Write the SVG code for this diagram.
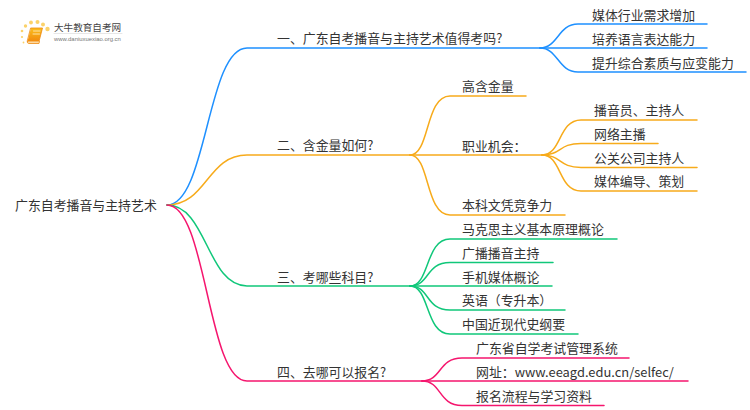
<svg xmlns="http://www.w3.org/2000/svg" width="750" height="410" viewBox="0 0 750 410">
<defs><linearGradient id="bk" x1="0" y1="0" x2="0" y2="1"><stop offset="0" stop-color="#fbbf1e"/><stop offset="1" stop-color="#f18a0e"/></linearGradient></defs>
<style>
text{font-family:"Noto Sans CJK SC","Noto Sans",sans-serif;font-size:12.9px;fill:#333}
path{fill:none;stroke-width:1.5;stroke-linecap:round}
.b path{stroke:#1e90ff}.o path{stroke:#f7ab1b}.g path{stroke:#10c77a}.p path{stroke:#f5166e}
</style>
<rect width="750" height="410" fill="#fff"/>
<g id="logo">
<g fill="#fbd26a"><circle cx="25.500" cy="26" r="1.700"/><circle cx="31" cy="22.500" r="1.900"/><circle cx="37.500" cy="22" r="2"/><circle cx="43" cy="24.500" r="2"/><circle cx="47.500" cy="29" r="2.200"/><circle cx="22" cy="31" r="1.300"/><circle cx="22" cy="37" r="1.100"/><circle cx="23.500" cy="42.500" r="0.900"/></g>
<path d="M31 28H42.500L39 41.500H27.500Z" style="fill:url(#bk);stroke:#ee8a10;stroke-width:0.800"/>
<path d="M27.500 41.500C27 43 28 43.500 29 43.500H39L39.500 41.500" style="fill:#fdd9a0;stroke:#ee8a10;stroke-width:0.800"/>
<path d="M33.500 31H40M33 34H39.500" style="stroke:#fde3a6;stroke-width:1"/>
<text x="54" y="31" style="font-size:9.600px;fill:#444">大牛教育自考网</text>
<path d="M54 33.500H122" style="stroke:#ddd;stroke-width:0.700"/>
<text x="54" y="41" style="font-size:5.900px;fill:#777;font-family:'Liberation Sans',sans-serif">www.daniuxuexiao.org.cn</text>
</g>
<g id="connectors">
<g class="b"><path d="M167 205C207 205 207 48 247 48H540"/><path d="M540 48C558 48 558 24 578 24H707"/><path d="M540 48H707"/><path d="M540 48C558 48 558 72 578 72H746"/></g>
<g class="o"><path d="M167 205C207 205 207 155 247 155H410"/><path d="M410 155C430 155 425 96 450 96H526"/><path d="M410 155H542"/><path d="M410 155C430 155 425 215 450 215H565"/><path d="M542 155C562 155 558 120 581 120H697"/><path d="M542 155C562 155 558 143.500 581 143.500H658"/><path d="M542 155C562 155 558 167.500 581 167.500H697"/><path d="M542 155C562 155 558 191 581 191H697"/></g>
<g class="g"><path d="M167 205C207 205 207 286 247 286H410"/><path d="M410 286C430 286 425 239 450 239H617"/><path d="M410 286C430 286 425 262.500 450 262.500H553"/><path d="M410 286H552"/><path d="M410 286C430 286 425 310 450 310H565"/><path d="M410 286C430 286 425 334 450 334H578"/></g>
<g class="p"><path d="M167 205C207 205 207 381 247 381H422"/><path d="M422 381C442 381 438 358 462 358H629"/><path d="M422 381H688"/><path d="M422 381C442 381 438 405.500 462 405.500H604"/></g>
</g>
<g id="root"><text x="15" y="210">广东自考播音与主持艺术</text></g>
<g id="n1"><text x="277" y="43">一、广东自考播音与主持艺术值得考吗?</text></g>
<g id="n1a"><text x="592" y="20">媒体行业需求增加</text></g>
<g id="n1b"><text x="592" y="44">培养语言表达能力</text></g>
<g id="n1c"><text x="592" y="68">提升综合素质与应变能力</text></g>
<g id="n2"><text x="277" y="150">二、含金量如何?</text></g>
<g id="n2a"><text x="462" y="91">高含金量</text></g>
<g id="n2b"><text x="462" y="151">职业机会&#xFF1A;</text></g>
<g id="n2c"><text x="462" y="210">本科文凭竞争力</text></g>
<g id="n2b1"><text x="594" y="115">播音员、主持人</text></g>
<g id="n2b2"><text x="594" y="139">网络主播</text></g>
<g id="n2b3"><text x="594" y="163">公关公司主持人</text></g>
<g id="n2b4"><text x="594" y="186">媒体编导、策划</text></g>
<g id="n3"><text x="277" y="282">三、考哪些科目?</text></g>
<g id="n3a"><text x="462" y="234">马克思主义基本原理概论</text></g>
<g id="n3b"><text x="462" y="258">广播播音主持</text></g>
<g id="n3c"><text x="462" y="282">手机媒体概论</text></g>
<g id="n3d"><text x="462" y="305">英语&#xFF08;专升本&#xFF09;</text></g>
<g id="n3e"><text x="462" y="329">中国近现代史纲要</text></g>
<g id="n4"><text x="277" y="377">四、去哪可以报名?</text></g>
<g id="n4a"><text x="476" y="353">广东省自学考试管理系统</text></g>
<g id="n4b"><text x="476" y="377">网址&#xFF1A;www.eeagd.edu.cn/selfec/</text></g>
<g id="n4c"><text x="476" y="401">报名流程与学习资料</text></g>
</svg>
